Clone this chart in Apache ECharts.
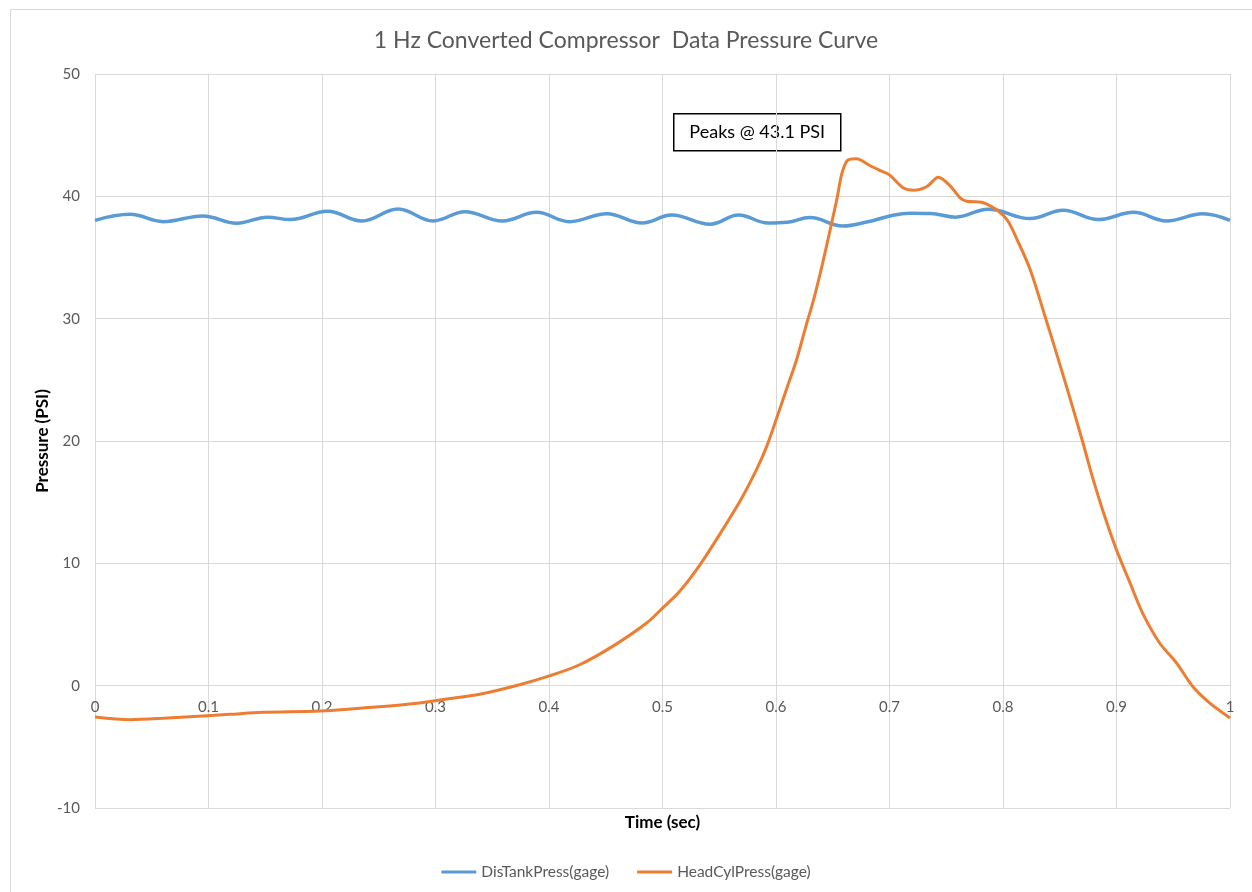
<!DOCTYPE html>
<html>
<head>
<meta charset="utf-8">
<script src="https://cdn.jsdelivr.net/npm/echarts@6/dist/echarts.min.js"></script>
<style>
html,body{margin:0;padding:0;background:#fff;}
#chart{width:1252px;height:892px;}
</style>
</head>
<body>
<div id="chart"></div>
<script>
var titleText = '1 Hz Converted Compressor  Data Pressure Curve';
var seriesNames = ['DisTankPress(gage)', 'HeadCylPress(gage)'];
var xTickLabels = ['0','0.1','0.2','0.3','0.4','0.5','0.6','0.7','0.8','0.9','1'];

var blueT = [0.000,0.031,0.060,0.095,0.125,0.152,0.172,0.205,0.235,0.267,0.298,0.326,0.359,0.389,0.418,0.451,0.482,0.508,0.542,0.567,0.593,0.610,0.630,0.659,0.680,0.703,0.718,0.736,0.758,0.787,0.795,0.824,0.853,0.884,0.915,0.944,0.976,1.000];
var blueP = [38.04,38.53,37.93,38.40,37.80,38.30,38.10,38.78,37.99,38.97,37.99,38.75,37.99,38.69,37.93,38.58,37.82,38.47,37.72,38.47,37.82,37.88,38.26,37.58,37.90,38.45,38.62,38.60,38.30,38.95,38.86,38.18,38.86,38.10,38.69,37.99,38.58,38.04];

var orangeT = [0.000,0.031,0.060,0.099,0.119,0.148,0.198,0.236,0.280,0.310,0.339,0.374,0.401,0.427,0.456,0.486,0.500,0.515,0.533,0.551,0.569,0.583,0.592,0.601,0.610,0.618,0.627,0.633,0.641,0.649,0.654,0.658,0.663,0.671,0.683,0.692,0.700,0.712,0.722,0.733,0.743,0.753,0.762,0.768,0.782,0.795,0.804,0.812,0.824,0.837,0.848,0.859,0.870,0.879,0.888,0.900,0.912,0.923,0.938,0.953,0.967,0.982,1.000];
var orangeP = [-2.56,-2.78,-2.67,-2.45,-2.34,-2.18,-2.07,-1.82,-1.47,-1.09,-0.70,0.08,0.82,1.71,3.21,5.12,6.34,7.70,9.88,12.46,15.20,17.70,19.60,21.99,24.44,26.60,29.60,31.50,34.50,37.80,39.94,41.85,42.94,43.08,42.50,42.10,41.75,40.70,40.50,40.80,41.55,40.90,39.90,39.60,39.50,38.86,38.04,36.55,34.00,30.20,26.90,23.50,20.00,17.00,14.30,11.10,8.38,5.93,3.49,1.85,-0.05,-1.41,-2.64];

var annotationText = 'Peaks @ 43.1 PSI';

function pairs(t, p){ return t.map(function(v,i){ return [v, p[i]]; }); }

var FONT = 'Lato';
var chart = echarts.init(document.getElementById('chart'), null, {renderer:'canvas'});
chart.setOption({
  animation: false,
  backgroundColor: '#ffffff',
  title: {
    text: titleText,
    left: 'center',
    top: 24,
    textStyle: {fontFamily: FONT, fontSize: 23, fontWeight: 'normal', color: '#595959'}
  },
  grid: {left: 95, right: 22, top: 74, bottom: 84, containLabel: false, outerBoundsMode: 'none'},
  legend: {
    data: seriesNames,
    top: 859,
    left: 'center',
    itemWidth: 35,
    itemHeight: 3,
    itemGap: 28,
    icon: 'rect',
    textStyle: {fontFamily: FONT, fontSize: 15.5, color: '#595959'}
  },
  xAxis: {
    type: 'value',
    min: 0, max: 1, interval: 0.1,
    name: 'Time (sec)',
    nameLocation: 'middle',
    nameGap: 6,
    nameMoveOverlap: false,
    nameTextStyle: {fontFamily: FONT, fontSize: 17, fontWeight: 'bold', color: '#000000', verticalAlign: 'top'},
    axisLine: {show: false, onZero: false},
    axisTick: {show: false},
    axisLabel: {
      fontFamily: FONT, fontSize: 15, color: '#595959', margin: -108,
      formatter: function(v){ var i = Math.round(v*10); return xTickLabels[i] !== undefined ? xTickLabels[i] : ''; }
    },
    splitLine: {show: true, lineStyle: {color: '#d9d9d9', width: 1}}
  },
  yAxis: {
    type: 'value',
    min: -10, max: 50, interval: 10,
    name: 'Pressure (PSI)',
    nameLocation: 'middle',
    nameGap: 44,
    nameRotate: 90,
    nameMoveOverlap: false,
    nameTextStyle: {fontFamily: FONT, fontSize: 17, fontWeight: 'bold', color: '#000000'},
    axisLine: {show: false},
    axisTick: {show: false},
    axisLabel: {fontFamily: FONT, fontSize: 15, color: '#595959', margin: 15},
    splitLine: {show: true, lineStyle: {color: '#d9d9d9', width: 1}}
  },
  series: [
    {
      name: seriesNames[0], type: 'line', data: pairs(blueT, blueP),
      showSymbol: false, smooth: 0.4,
      lineStyle: {color: '#5B9BD5', width: 3.5}, itemStyle: {color: '#5B9BD5'}
    },
    {
      name: seriesNames[1], type: 'line', data: pairs(orangeT, orangeP),
      showSymbol: false, smooth: 0.3,
      lineStyle: {color: '#ED7D31', width: 3}, itemStyle: {color: '#ED7D31'}
    }
  ],
  graphic: [
    {type: 'rect', left: 8, top: 7, shape: {width: 1260, height: 900}, style: {fill: 'none', stroke: '#d9d9d9', lineWidth: 1}, silent: true, z: -1},
    {
      type: 'group', left: 673, top: 113,
      children: [
        {type: 'rect', shape: {x: 0, y: 0, width: 167, height: 37}, style: {fill: '#ffffff', stroke: '#000000', lineWidth: 1.5}},
        {type: 'text', x: 83.5, y: 18.5, style: {text: annotationText, fontFamily: FONT, fontSize: 18, fill: '#000000', align: 'center', verticalAlign: 'middle'}}
      ]
    }
  ]
});
</script>
</body>
</html>
